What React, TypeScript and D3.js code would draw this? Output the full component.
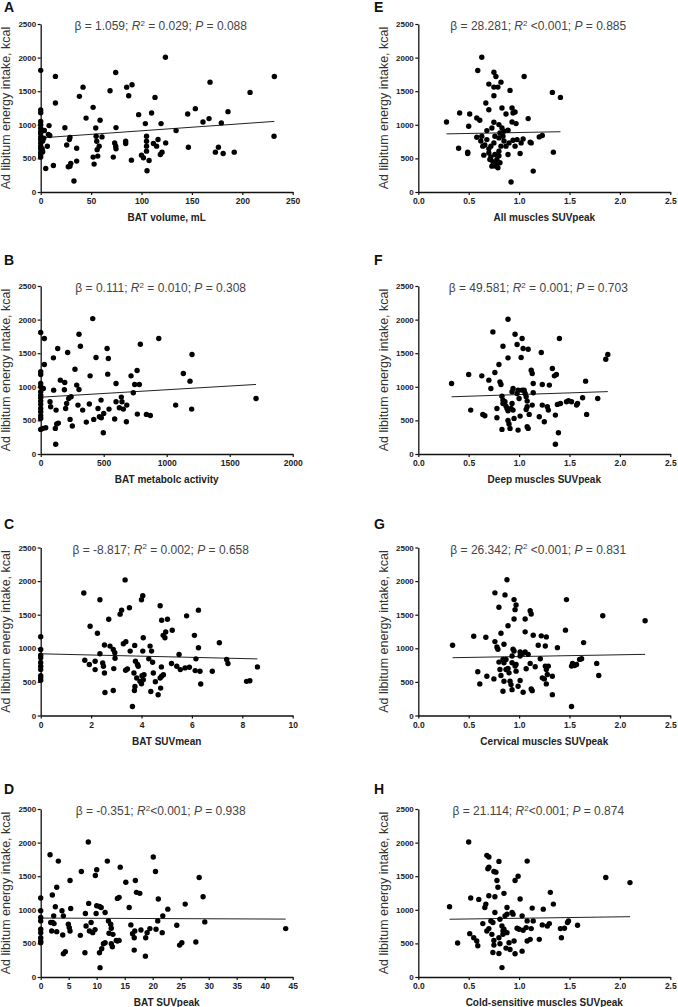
import { useEffect, useRef } from 'react';
import * as d3 from 'd3';

// energy intake axis (kcal)
const intakeTicks = [0, 500, 1000, 1500, 2000, 2500];

// x tick values per panel
const volumeTicks = [0, 50, 100, 150, 200, 250];
const activityTicks = [0, 500, 1000, 1500, 2000];
const suvMeanTicks = [0, 2, 4, 6, 8, 10];
const suvPeakTicks = [0, 5, 10, 15, 20, 25, 30, 35, 40, 45];
const muscleTicks = [0, 0.5, 1, 1.5, 2, 2.5];

// A: BAT volume vs intake
const volumePts: [number, number][] = [
  [0, 1810], [0, 1220], [0, 1180], [0, 1050], [0, 1000], [0, 950], [0, 900], [0, 870], [0, 820], [0, 780],
  [0, 730], [0, 680], [0, 640], [0, 590], [0, 560], [0, 520], [2, 760], [3, 800], [1.5, 640], [2, 600],
  [3.6, 915], [7.6, 855], [6.6, 680], [8.3, 988], [9, 840], [5, 350], [12.6, 395], [14.6, 1720], [14.6, 1325],
  [24, 955], [25.8, 700], [28.4, 780], [29, 810], [27.4, 375], [29.8, 425], [29, 385], [33, 163], [35.7, 652],
  [35.7, 460], [38.4, 1423], [42, 1560], [45, 1100], [52, 1260], [52, 519], [53, 415], [54.6, 953], [55, 830],
  [55.6, 755], [56, 630], [56.6, 534], [58, 680], [58.9, 1067], [60.8, 820], [68.8, 1507], [74.4, 1779],
  [74.7, 958], [72, 519], [73.4, 731], [74.4, 681], [74.7, 642], [85.3, 1560], [87.3, 1433], [90.6, 1596],
  [84.3, 756], [84.3, 721], [90, 474], [97.2, 1151], [100, 548], [101.9, 509], [103.8, 1018], [105, 608],
  [105, 682], [105, 756], [105, 830], [107.5, 469], [105.5, 316], [110, 1176], [113.4, 1408], [111.8, 721],
  [115, 682], [116.4, 781], [119.4, 1018], [118.7, 558], [120.4, 593], [123.7, 2006], [124, 731], [134.3, 914],
  [145.8, 1161], [146.5, 667], [153.4, 1240], [161, 1042], [167, 1092], [168, 1635], [173.3, 593], [176.3, 667],
  [179.2, 1028], [181, 573], [185.8, 1196], [192, 593], [207.7, 1482], [231.8, 1719], [231.5, 830],
];

// B: BAT metabolic activity vs intake
const activityPts: [number, number][] = [
  [0, 1807], [0, 1223], [0, 1183], [0, 1050], [0, 1000], [0, 926], [0, 876], [0, 837], [0, 787], [0, 738],
  [0, 678], [0, 629], [0, 569], [0, 530], [0, 366], [29, 1718], [29, 1332], [21, 975], [16, 381], [40, 391],
  [74, 777], [79, 703], [103, 950], [101, 1431], [135, 1569], [122, 653], [116, 381], [127, 446], [140, 460],
  [119, 144], [156, 1099], [191, 1064], [188, 955], [198, 678], [206, 752], [214, 1510], [222, 827], [241, 851],
  [233, 515], [251, 416], [272, 1262], [286, 1025], [296, 728], [304, 1782], [304, 960], [315, 1604], [333, 653],
  [362, 475], [392, 1163], [386, 743], [413, 2015], [421, 515], [439, 1436], [455, 678], [466, 554], [479, 802],
  [481, 540], [497, 317], [500, 604], [527, 1569], [537, 1421], [532, 1188], [542, 668], [587, 520], [598, 1050],
  [598, 777], [624, 688], [640, 847], [645, 777], [656, 668], [680, 480], [683, 728], [717, 1163], [735, 911],
  [746, 1035], [765, 1243], [767, 594], [783, 1035], [791, 1634], [839, 589], [870, 574], [937, 1718],
  [1071, 728], [1132, 1198], [1185, 1084], [1201, 1480], [1198, 668], [1709, 827],
];

// C: BAT SUVmean vs intake
const suvMeanPts: [number, number][] = [
  [0, 1172], [0, 983], [0, 898], [0, 858], [0, 790], [0, 733], [0, 683], [0, 593], [0, 558], [0, 523],
  [1.71, 1822], [1.96, 1328], [1.75, 823], [1.93, 758], [2.16, 808], [2.16, 683], [2.25, 1223], [2.35, 1723],
  [2.35, 918], [2.46, 783], [2.49, 733], [2.53, 633], [2.53, 1048], [2.55, 343], [2.7, 1433], [2.75, 1033],
  [2.88, 983], [2.94, 933], [2.95, 853], [2.9, 698], [2.88, 373], [3.15, 1508], [3.21, 1568], [3.35, 2018],
  [3.28, 1068], [3.38, 1098], [3.37, 673], [3.44, 693], [3.52, 1603], [3.55, 958], [3.64, 133], [3.7, 633],
  [3.72, 373], [3.73, 1043], [3.76, 808], [3.84, 758], [3.74, 433], [3.81, 558], [3.87, 733], [3.94, 508],
  [4.0, 473], [4.07, 533], [4.1, 608], [4.0, 1723], [4.05, 1783], [4.07, 1158], [4.05, 958], [4.02, 593],
  [4.29, 843], [4.34, 1033], [4.4, 958], [4.37, 358], [4.44, 793], [4.47, 633], [4.55, 503], [4.66, 308],
  [4.74, 1633], [4.8, 1418], [4.79, 723], [4.76, 408], [4.74, 558], [4.8, 583], [4.87, 608], [4.86, 1193],
  [4.93, 1158], [4.96, 1243], [5.03, 1433], [5.22, 1268], [5.19, 773], [5.4, 733], [5.49, 908], [5.54, 683],
  [5.73, 708], [5.9, 718], [5.79, 1483], [6.1, 1193], [6.16, 843], [6.13, 668], [6.26, 1568], [6.26, 1008],
  [6.32, 658], [6.35, 468], [6.81, 658], [7.09, 1083], [7.38, 833], [7.43, 773], [8.17, 508], [8.3, 518],
  [8.6, 723],
];

// D: BAT SUVpeak vs intake
const suvPeakPts: [number, number][] = [
  [0, 1175], [0, 985], [0, 885], [0, 835], [0, 710], [0, 660], [0, 585], [0, 535], [0, 510],
  [1.67, 1820], [2.08, 1220], [2.14, 810], [1.79, 810], [1.96, 685], [2.38, 795], [2.86, 1335], [2.62, 1045],
  [3.15, 1725], [2.86, 675], [2.32, 910], [3.8, 985], [4.05, 910], [3.93, 625], [4.05, 345], [4.4, 375],
  [4.94, 785], [5.1, 735], [5.24, 685], [5.24, 1435], [5.36, 1020], [7.08, 620], [7.26, 1570], [7.9, 360],
  [7.98, 945], [8.1, 760], [8.5, 2010], [8.57, 1095], [8.7, 685], [9.0, 810], [9.29, 660], [9.7, 705],
  [9.76, 1510], [10, 1595], [9.9, 945], [10, 1060], [10.5, 1050], [10.8, 1035], [10.5, 360], [10.9, 420],
  [11.2, 495], [11.5, 510], [11.5, 960], [11.9, 1725], [12.1, 835], [12.2, 650], [12.5, 785], [12.6, 725],
  [12.6, 495], [12.8, 450], [12.9, 635], [13.5, 545], [13.7, 535], [14, 545], [13.7, 1170], [14, 1185],
  [14.2, 1635], [15.2, 1410], [15.8, 1035], [16.1, 775], [16.4, 645], [16.8, 685], [16.7, 585], [16.7, 400],
  [16.9, 1435], [17.1, 1260], [17.7, 1245], [17.9, 700], [18.7, 310], [18.75, 585], [19, 660], [19.5, 720],
  [20.1, 1785], [20.5, 1570], [20.6, 710], [20.9, 835], [21, 1160], [21.8, 910], [21.7, 660], [22.7, 1010],
  [24.3, 770], [24.8, 475], [25.2, 510], [25.8, 1085], [27.7, 520], [28.3, 1480], [29, 1195], [29.3, 820],
  [43.75, 720], [10.6, 139],
];

// E: all muscles SUVpeak vs intake
const allMusclePts: [number, number][] = [
  [0.28, 1042], [0.4, 652], [0.41, 1176], [0.49, 593], [0.49, 573], [0.5, 978], [0.51, 1161], [0.58, 1102],
  [0.61, 1067], [0.59, 1808], [0.58, 815], [0.63, 2006], [0.63, 830], [0.64, 682], [0.65, 548], [0.67, 1324],
  [0.68, 914], [0.68, 780], [0.7, 1606], [0.7, 1225], [0.7, 642], [0.72, 682], [0.71, 484], [0.73, 953],
  [0.73, 385], [0.75, 1783], [0.75, 1561], [0.75, 1433], [0.75, 1037], [0.76, 830], [0.75, 731], [0.76, 558],
  [0.77, 385], [0.78, 484], [0.77, 1719], [0.79, 1561], [0.8, 1003], [0.81, 879], [0.8, 805], [0.82, 682],
  [0.8, 608], [0.81, 435], [0.79, 361], [0.82, 1635], [0.83, 1250], [0.83, 953], [0.84, 830], [0.85, 904],
  [0.87, 682], [0.87, 1161], [0.89, 919], [0.89, 558], [0.9, 731], [0.91, 1512], [0.92, 148], [0.93, 1250],
  [0.94, 1176], [0.96, 1191], [0.93, 1042], [0.97, 1018], [0.94, 771], [0.96, 682], [0.98, 780], [1.01, 573],
  [1.02, 731], [1.04, 790], [1.05, 1719], [1.09, 1092], [1.11, 741], [1.12, 731], [1.14, 311], [1.2, 820],
  [1.23, 840], [1.33, 1482], [1.34, 593], [1.41, 1408], [0.72, 520], [0.74, 450], [0.78, 420], [0.8, 540],
  [0.7, 580], [0.66, 700], [0.62, 760], [0.85, 760],
];

// F: deep muscles SUVpeak vs intake
const deepMusclePts: [number, number][] = [
  [0.33, 1049], [0.5, 1183], [0.52, 653], [0.63, 1163], [0.64, 589], [0.66, 569], [0.7, 1099], [0.72, 975],
  [0.74, 1817], [0.81, 1074], [0.82, 1035], [0.76, 1212], [0.78, 678], [0.78, 540], [0.8, 1332], [0.83, 861],
  [0.84, 802], [0.84, 752], [0.84, 1604], [0.83, 366], [0.86, 777], [0.87, 713], [0.88, 678], [0.89, 644],
  [0.89, 1431], [0.89, 2005], [0.89, 500], [0.9, 446], [0.91, 381], [0.92, 678], [0.93, 752], [0.93, 926],
  [0.94, 975], [0.94, 653], [0.95, 530], [0.96, 1782], [0.98, 1629], [0.98, 901], [0.99, 950], [1.0, 827],
  [0.99, 356], [1.03, 950], [1.01, 564], [1.03, 1718], [1.02, 1436], [1.04, 1569], [1.09, 1559], [1.05, 950],
  [1.06, 901], [1.07, 851], [1.08, 787], [1.08, 703], [1.07, 663], [1.08, 406], [1.09, 381], [1.1, 589],
  [1.12, 1247], [1.13, 1198], [1.13, 728], [1.14, 1049], [1.14, 911], [1.2, 554], [1.22, 1510], [1.23, 1035],
  [1.23, 728], [1.25, 480], [1.28, 703], [1.29, 653], [1.3, 1025], [1.33, 1272], [1.35, 1163], [1.37, 1183],
  [1.36, 579], [1.38, 738], [1.36, 144], [1.39, 317], [1.4, 1718], [1.41, 752], [1.47, 777], [1.49, 792],
  [1.52, 777], [1.57, 728], [1.58, 752], [1.63, 837], [1.66, 1084], [1.67, 589], [1.78, 827], [1.86, 1411],
  [1.88, 1480],
];

// G: cervical muscles SUVpeak vs intake
const cervicalPts: [number, number][] = [
  [0.34, 1045], [0.55, 1180], [0.59, 650], [0.61, 470], [0.67, 1165], [0.68, 585], [0.75, 545], [0.76, 1825],
  [0.76, 1100], [0.78, 1020], [0.79, 985], [0.8, 1610], [0.8, 795], [0.81, 685], [0.82, 595], [0.82, 1225],
  [0.84, 360], [0.85, 1060], [0.86, 1795], [0.84, 835], [0.85, 785], [0.87, 835], [0.87, 685], [0.85, 510],
  [0.88, 2020], [0.89, 1335], [0.89, 700], [0.9, 635], [0.91, 510], [0.92, 460], [0.93, 885], [0.93, 785],
  [0.93, 385], [0.94, 985], [0.95, 960], [0.95, 1725], [0.97, 1645], [0.96, 1575], [0.95, 1435], [0.96, 735],
  [0.97, 660], [0.97, 760], [0.99, 435], [1.01, 945], [1.01, 885], [1.01, 520], [1.04, 345], [1.04, 925],
  [1.06, 945], [1.06, 1245], [1.06, 1435], [1.07, 695], [1.09, 910], [1.11, 1560], [1.12, 1510], [1.11, 775],
  [1.12, 395], [1.13, 370], [1.14, 1195], [1.16, 725], [1.19, 1045], [1.21, 845], [1.22, 1185], [1.23, 560],
  [1.25, 545], [1.26, 1035], [1.27, 1170], [1.26, 735], [1.27, 685], [1.29, 735], [1.27, 470], [1.28, 610],
  [1.33, 585], [1.33, 310], [1.38, 1010], [1.46, 1270], [1.47, 1725], [1.52, 135], [1.52, 735], [1.53, 775],
  [1.55, 745], [1.57, 760], [1.6, 835], [1.62, 845], [1.64, 1085], [1.77, 775], [1.79, 595], [1.83, 1485],
  [2.25, 1410],
];

// H: cold-sensitive muscles SUVpeak vs intake
const coldMusclePts: [number, number][] = [
  [0.31, 1045], [0.39, 505], [0.52, 1175], [0.51, 645], [0.55, 585], [0.58, 535], [0.59, 465], [0.5, 2010],
  [0.6, 1155], [0.64, 795], [0.66, 1035], [0.67, 1085], [0.68, 685], [0.7, 720], [0.7, 1210], [0.76, 1195],
  [0.68, 1810], [0.7, 1785], [0.69, 1610], [0.7, 1635], [0.72, 835], [0.74, 810], [0.73, 635], [0.75, 545],
  [0.75, 475], [0.75, 1570], [0.77, 1560], [0.76, 960], [0.78, 1435], [0.79, 1335], [0.8, 1720], [0.8, 585],
  [0.81, 495], [0.81, 860], [0.83, 760], [0.84, 685], [0.84, 635], [0.85, 710], [0.85, 1245], [0.86, 910],
  [0.88, 935], [0.88, 1035], [0.88, 660], [0.9, 510], [0.91, 410], [0.93, 960], [0.94, 935], [0.95, 535],
  [0.96, 1435], [0.99, 1500], [0.98, 725], [1.0, 710], [1.01, 1160], [1.03, 910], [1.04, 695], [1.07, 735],
  [1.08, 835], [1.08, 1725], [1.08, 535], [1.11, 560], [1.12, 720], [1.13, 1025], [1.14, 835], [1.2, 560],
  [1.23, 775], [1.24, 1010], [1.28, 760], [1.3, 795], [1.31, 1260], [1.34, 1085], [1.41, 720], [1.42, 585],
  [1.45, 725], [1.48, 810], [1.49, 835], [1.58, 770], [1.86, 1480], [2.1, 1405], [0.74, 365], [0.8, 350],
  [0.96, 345], [1.03, 385], [0.87, 430], [0.83, 140],
];

// regression fits: [intercept, beta]
const fitA = [805, 1.059];
const fitB = [845, 0.111];
const fitC = [918, -8.817];
const fitD = [877, -0.351];
const fitE = [857, 28.281];
const fitF = [835, 49.581];
const fitG = [851, 26.342];
const fitH = [853, 21.114];

// stats text: beta, R2 relation, R2, P
const statsA = ['1.059', ' = ', '0.029', '0.088'];
const statsB = ['0.111', ' = ', '0.010', '0.308'];
const statsC = ['-8.817', ' = ', '0.002', '0.658'];
const statsD = ['-0.351', '<', '0.001', '0.938'];
const statsE = ['28.281', ' <', '0.001', '0.885'];
const statsF = ['49.581', ' = ', '0.001', '0.703'];
const statsG = ['26.342', ' <', '0.001', '0.831'];
const statsH = ['21.114', '<', '0.001', '0.874'];

const panels = [
  { letter: 'A', pts: volumePts, xTicks: volumeTicks, xLabel: 'BAT volume, mL', fit: fitA, stats: statsA, col: 0, row: 0, fmt: 'd' },
  { letter: 'B', pts: activityPts, xTicks: activityTicks, xLabel: 'BAT metabolc activity', fit: fitB, stats: statsB, col: 0, row: 1, fmt: 'd' },
  { letter: 'C', pts: suvMeanPts, xTicks: suvMeanTicks, xLabel: 'BAT SUVmean', fit: fitC, stats: statsC, col: 0, row: 2, fmt: 'd' },
  { letter: 'D', pts: suvPeakPts, xTicks: suvPeakTicks, xLabel: 'BAT SUVpeak', fit: fitD, stats: statsD, col: 0, row: 3, fmt: 'd' },
  { letter: 'E', pts: allMusclePts, xTicks: muscleTicks, xLabel: 'All muscles SUVpeak', fit: fitE, stats: statsE, col: 1, row: 0, fmt: '.1f' },
  { letter: 'F', pts: deepMusclePts, xTicks: muscleTicks, xLabel: 'Deep muscles SUVpeak', fit: fitF, stats: statsF, col: 1, row: 1, fmt: '.1f' },
  { letter: 'G', pts: cervicalPts, xTicks: muscleTicks, xLabel: 'Cervical muscles SUVpeak', fit: fitG, stats: statsG, col: 1, row: 2, fmt: '.1f' },
  { letter: 'H', pts: coldMusclePts, xTicks: muscleTicks, xLabel: 'Cold-sensitive muscles SUVpeak', fit: fitH, stats: statsH, col: 1, row: 3, fmt: '.1f' },
];

const W = 678;
const H = 1007;
const colLeft = [40.7, 418.3];
const rowTop = [24, 286, 547.5, 809];
const letterX = [4, 374];
const letterY = [12, 265, 529, 794];
const yLabelX = [9.5, 387.5];
const plotW = 252;
const plotH = 168;
const FONT = '"Liberation Sans", Arial, sans-serif';

const App = () => {
  const svgRef = useRef<SVGSVGElement>(null);

  useEffect(() => {
    const svg = d3.select(svgRef.current);
    svg.selectAll('*').remove();

    panels.forEach((p) => {
      const left = colLeft[p.col];
      const top = rowTop[p.row];
      const xMax = p.xTicks[p.xTicks.length - 1];
      const x = d3.scaleLinear().domain([0, xMax]).range([0, plotW]);
      const y = d3.scaleLinear().domain([0, 2500]).range([plotH, 0]);
      const g = svg.append('g').attr('transform', `translate(${left},${top})`);

      const xAxis = d3.axisBottom(x).tickValues(p.xTicks).tickSize(3).tickSizeOuter(0).tickPadding(3)
        .tickFormat(d3.format(p.fmt) as any);
      const yAxis = d3.axisLeft(y).tickValues(intakeTicks).tickSize(3).tickSizeOuter(0).tickPadding(1.5)
        .tickFormat(d3.format('d') as any);

      const gx = g.append('g').attr('transform', `translate(0,${plotH})`).call(xAxis);
      const gy = g.append('g').call(yAxis);
      [gx, gy].forEach((a) => {
        a.attr('font-family', FONT).attr('font-size', 8.5).attr('font-weight', 'bold');
        a.select('.domain').attr('stroke', '#111').attr('stroke-width', 1.3);
        a.selectAll('.tick line').attr('stroke', '#111').attr('stroke-width', 1.2);
        a.selectAll('.tick text').attr('fill', '#222');
      });
      gy.attr('font-size', 8);

      // regression line
      const [x0, x1] = d3.extent(p.pts, (d) => d[0]) as [number, number];
      const fitLine = d3.line<number>().x((v) => x(v)).y((v) => y(p.fit[0] + p.fit[1] * v));
      g.append('path')
        .datum([x0, x1])
        .attr('d', fitLine)
        .attr('fill', 'none')
        .attr('stroke', '#222')
        .attr('stroke-width', 1);

      // points
      g.selectAll('circle')
        .data(p.pts)
        .join('circle')
        .attr('cx', (d) => x(d[0]))
        .attr('cy', (d) => y(d[1]))
        .attr('r', 2.7)
        .attr('fill', '#000');

      // stats annotation
      const t = g.append('text')
        .attr('x', 120)
        .attr('y', 6)
        .attr('text-anchor', 'middle')
        .attr('font-family', FONT)
        .attr('font-size', 12)
        .attr('fill', '#444');
      t.append('tspan').text(`\u03b2 = ${p.stats[0]}; `);
      t.append('tspan').attr('font-style', 'italic').text('R');
      t.append('tspan').attr('font-size', 8).attr('dy', -4.5).text('2');
      t.append('tspan').attr('dy', 4.5).text(`${p.stats[1]}${p.stats[2]}; `);
      t.append('tspan').attr('font-style', 'italic').text('P');
      t.append('tspan').text(` = ${p.stats[3]}`);

      // x label
      g.append('text')
        .attr('x', plotW / 2)
        .attr('y', plotH + 29)
        .attr('text-anchor', 'middle')
        .attr('font-family', FONT)
        .attr('font-size', 10)
        .attr('font-weight', 'bold')
        .attr('fill', '#222')
        .text(p.xLabel);

      // y label
      svg.append('text')
        .attr('transform', `translate(${yLabelX[p.col]},${top + plotH / 2}) rotate(-90)`)
        .attr('text-anchor', 'middle')
        .attr('font-family', FONT)
        .attr('font-size', 12.5)
        .attr('fill', '#333')
        .text('Ad libitum energy intake, kcal');

      // panel letter
      svg.append('text')
        .attr('x', letterX[p.col])
        .attr('y', letterY[p.row])
        .attr('font-family', FONT)
        .attr('font-size', 14)
        .attr('font-weight', 'bold')
        .attr('fill', '#111')
        .text(p.letter);
    });
  }, []);

  return (
    <svg
      ref={svgRef}
      width={W}
      height={H}
      style={{ position: 'absolute', left: 0, top: 0, background: '#fff' }}
    />
  );
};

export default App;
